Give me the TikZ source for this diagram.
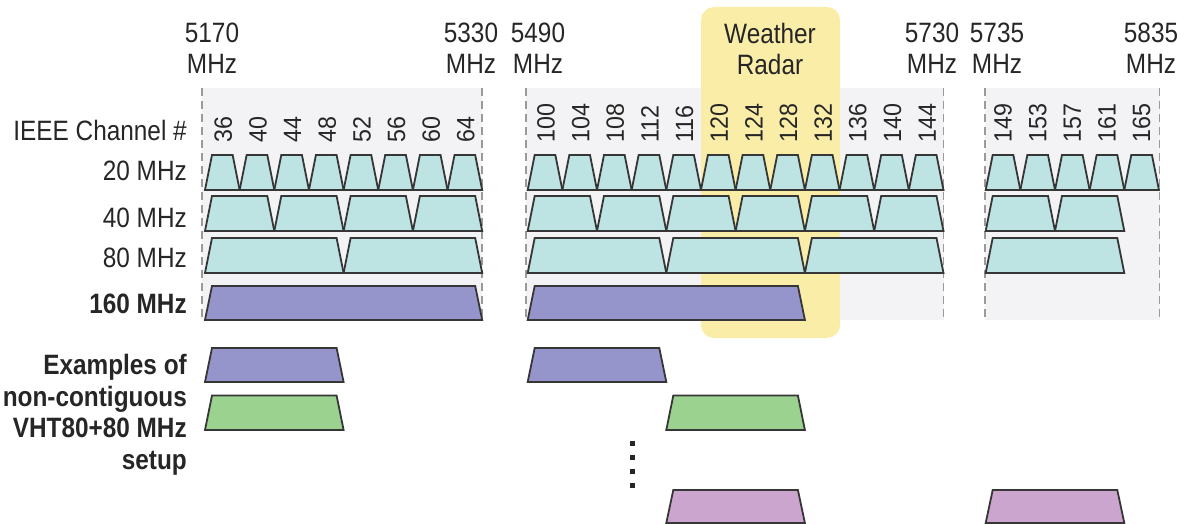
\documentclass[tikz,border=0pt]{standalone}
\usepackage{fontspec}
\setmainfont{Liberation Sans}[FakeStretch=0.87]
\newfontfamily\chfont{Liberation Sans}[FakeStretch=0.93]
\definecolor{bandgray}{HTML}{F3F3F5}
\definecolor{radaryel}{HTML}{F9EDA8}
\definecolor{edgegray}{HTML}{9A9A9A}
\definecolor{strokec}{HTML}{363636}
\definecolor{cyanf}{HTML}{BDE3E3}
\definecolor{purplef}{HTML}{9695CB}
\definecolor{greenf}{HTML}{9BD28F}
\definecolor{pinkf}{HTML}{CCA5CF}
\definecolor{txt}{HTML}{262626}
\def\chw{34.65}
\newcommand{\chanbox}[5]{\draw[trap,fill=#5] (#1,#4) -- ({#1+7},#3) -- ({#2-7},#3) -- (#2,#4) -- cycle;}
% start, count, span (channels), ytop, ybot, fill
\newcommand{\chanrow}[6]{%
  \foreach \ii in {1,...,#2} {%
    \pgfmathsetmacro\xa{#1+(\ii-1)*#3*\chw}%
    \pgfmathsetmacro\xb{#1+\ii*#3*\chw}%
    \chanbox{\xa}{\xb}{#4}{#5}{#6}%
  }}
\begin{document}
\begin{tikzpicture}[x=1pt,y=-1pt,
  trap/.style={draw=strokec,line width=1.8pt,line join=miter},
  bandedge/.style={draw=edgegray,line width=1.8pt,dash pattern=on 8pt off 5pt},
  lbl/.style={font=\fontsize{28}{31}\selectfont,text=txt,inner sep=0pt},
  blbl/.style={font=\bfseries\fontsize{28}{31.5}\selectfont,text=txt,inner sep=0pt},
  hdr/.style={font=\fontsize{28}{31}\selectfont,text=txt,inner sep=0pt,align=center},
  chnum/.style={font=\chfont\fontsize{25}{25}\selectfont,text=txt,inner sep=0pt,rotate=90,anchor=west}]
\useasboundingbox (0,0) rectangle (1187,524);
% band backgrounds
\fill[bandgray] (202,88) rectangle (482.2,320);
\fill[bandgray] (526,88) rectangle (943.5,320);
\fill[bandgray] (985,88) rectangle (1159.5,320);
% weather radar
\fill[radaryel,rounded corners=13pt] (701,7) rectangle (840,338);
% band edges
\foreach \xx in {202,482.2,526,943.5,985,1159.5} \draw[bandedge] (\xx,88) -- (\xx,320);
% headers
\node[hdr] (f5170) at (212,48.5) {5170\\MHz};
\node[hdr] (f5330) at (471,48.5) {5330\\MHz};
\node[hdr] (f5490) at (538,48.5) {5490\\MHz};
\node[hdr] (radar) at (770,48.5) {Weather\\Radar};
\node[hdr] (f5730) at (932,48.5) {5730\\MHz};
\node[hdr] (f5735) at (997,48.5) {5735\\MHz};
\node[hdr] (f5835) at (1151,48.5) {5835\\MHz};
% row labels
\node[lbl,anchor=base east] (lch) at (187,141) {IEEE Channel \#};
\node[lbl,anchor=base east] (l20) at (187,181) {20 MHz};
\node[lbl,anchor=base east] (l40) at (187,227) {40 MHz};
\node[lbl,anchor=base east] (l80) at (187,267) {80 MHz};
\node[blbl,anchor=base east] (l160) at (187,313) {160 MHz};
\node[blbl,anchor=east,align=right] (lex) at (187,415) {Examples of\\non-contiguous\\VHT80+80 MHz\\setup};
% channel numbers
\foreach \c [count=\k] in {36,40,44,48,52,56,60,64}
  \node[chnum] (ch\c) at ({205+(\k-0.5)*\chw+1},142.5) {\c};
\foreach \c [count=\k] in {100,104,108,112,116,120,124,128,132,136,140,144}
  \node[chnum] (ch\c) at ({527.7+(\k-0.5)*\chw+1},142.5) {\c};
\foreach \c [count=\k] in {149,153,157,161,165}
  \node[chnum] (ch\c) at ({985.7+(\k-0.5)*\chw},142.5) {\c};
% 20 MHz
\chanrow{205}{8}{1}{155}{190}{cyanf}
\chanrow{527.7}{12}{1}{155}{190}{cyanf}
\chanrow{985.7}{5}{1}{155}{190}{cyanf}
% 40 MHz
\chanrow{205}{4}{2}{196}{231}{cyanf}
\chanrow{527.7}{6}{2}{196}{231}{cyanf}
\chanrow{985.7}{2}{2}{196}{231}{cyanf}
% 80 MHz
\chanrow{205}{2}{4}{238}{273}{cyanf}
\chanrow{527.7}{3}{4}{238}{273}{cyanf}
\chanrow{985.7}{1}{4}{238}{273}{cyanf}
% 160 MHz
\chanrow{205}{1}{8}{286}{320}{purplef}
\chanrow{527.7}{1}{8}{286}{320}{purplef}
% examples of 80+80
\chanrow{205}{1}{4}{348}{382}{purplef}
\chanrow{527.7}{1}{4}{348}{382}{purplef}
\chanrow{205}{1}{4}{395.5}{430}{greenf}
\chanrow{666.3}{1}{4}{395.5}{430}{greenf}
\chanrow{666.3}{1}{4}{490}{523}{pinkf}
\chanrow{985.7}{1}{4}{490}{523}{pinkf}
% dots
\foreach \yy in {443,457,471,485}
  \fill[txt] (629.5,{\yy-2.5}) rectangle (634.5,{\yy+2.5});
\end{tikzpicture}
\end{document}
